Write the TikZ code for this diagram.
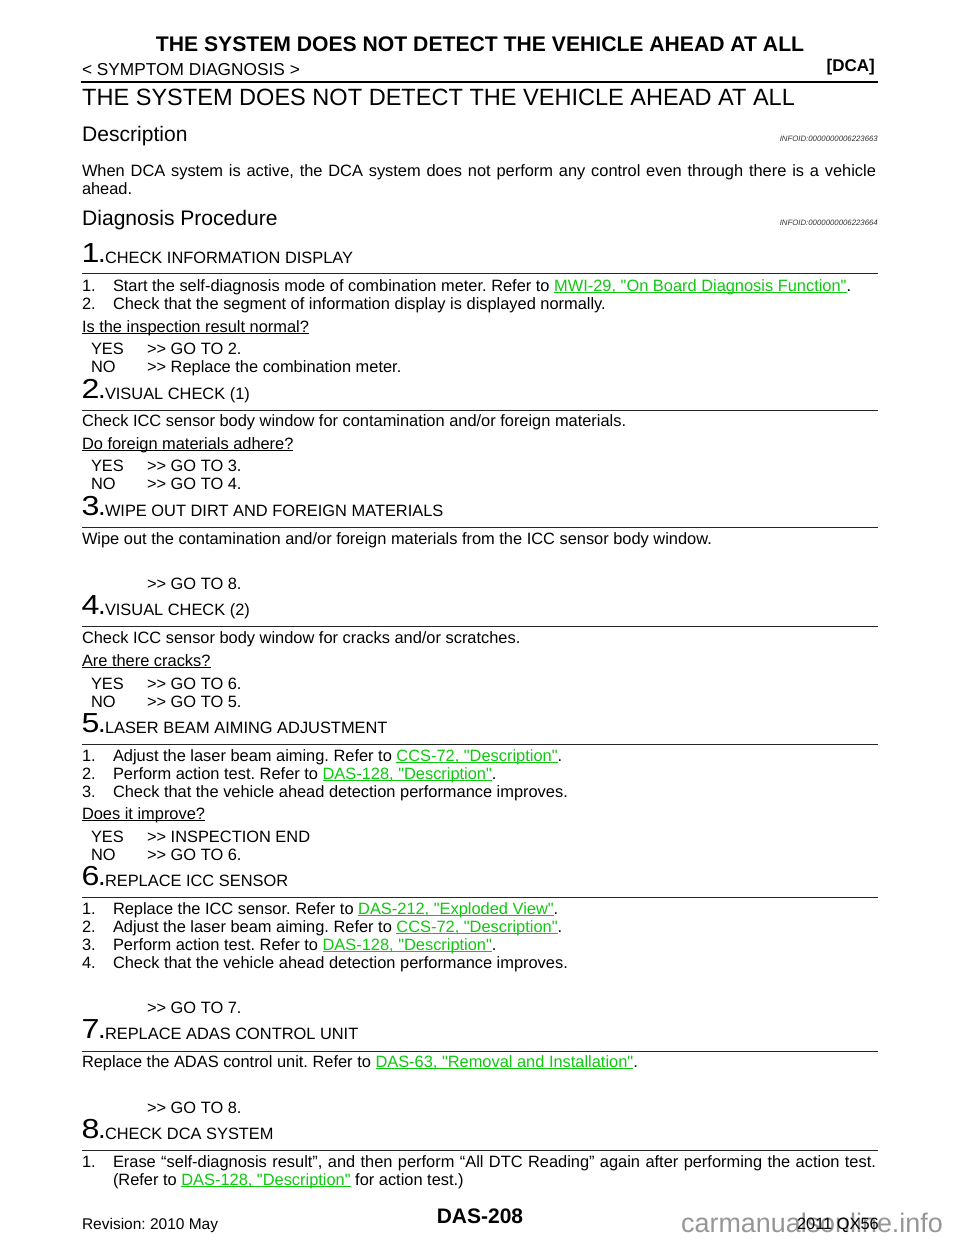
\documentclass[tikz,border=0pt]{standalone}
\usepackage{fontspec}
\setmainfont{Liberation Sans}[Ligatures=TeXOff]
\definecolor{linkgreen}{RGB}{16,200,16}
\definecolor{wmgrey}{RGB}{150,150,150}
\newsavebox{\ulbox}
\newcommand{\ul}[1]{\sbox{\ulbox}{#1}\rlap{\rule[-1.7pt]{\wd\ulbox}{0.8pt}}\usebox{\ulbox}}
\newcommand{\lnk}[1]{\textcolor{linkgreen}{\ul{#1}}}
\newcommand{\body}{\frenchspacing\fontsize{16.4}{18}\selectfont}
\tikzset{
  x=1pt,y=-1pt,
  txt/.style={anchor=base west,inner sep=0pt,outer sep=0pt,font=\body},
  num/.style={anchor=base west,inner sep=0pt,font=\fontsize{27.5}{28}\selectfont},
  rulel/.style={line width=1pt,black!85},
  info/.style={anchor=base east,inner sep=0pt,font=\fontsize{7.8}{8}\selectfont\itshape,black!80},
  sect/.style={anchor=base west,inner sep=0pt,font=\fontsize{21.05}{24}\selectfont},
}
\newcommand{\stepline}[4]{%
  \node[num] (n#1) at (81.5,#2-0.8) {\scalebox{1.17}[1]{#1}\kern-1.5pt.};
  \node[txt] (h#1) at (105,#2) {#3};
  \coordinate (a#1) at (82,#4); \coordinate (b#1) at (878,#4);
  \draw[rulel] (a#1) -- (b#1);
}
\begin{document}
\begin{tikzpicture}
\useasboundingbox (0,0) rectangle (960,1242);
\fill[white] (0,0) rectangle (960,1242);
\node[anchor=base,inner sep=0pt,font=\fontsize{21.15}{24}\selectfont\bfseries] (title) at (480,51) {THE SYSTEM DOES NOT DETECT THE VEHICLE AHEAD AT ALL};
\node[txt,font=\frenchspacing\fontsize{17.3}{18}\selectfont] (sym) at (82,75.5) {< SYMPTOM DIAGNOSIS >};
\node[anchor=base east,inner sep=0pt,font=\fontsize{17}{18}\selectfont\bfseries] (dca) at (875,71.5) {[DCA]};
\coordinate (ta) at (81,81.7); \coordinate (tb) at (878,81.7);
\draw[line width=2.2pt] (ta) -- (tb);
\node[anchor=base west,inner sep=0pt,font=\fontsize{23.55}{28}\selectfont] (main) at (82,105) {THE SYSTEM DOES NOT DETECT THE VEHICLE AHEAD AT ALL};
\node[sect] (desc) at (82,141) {Description};
\node[info] (i1) at (878,141) {INFOID:0000000006223663};
\node[txt] (d1) at (82,176) {\makebox[794pt][s]{When DCA system is active, the DCA system does not perform any control even through there is a vehicle}};
\node[txt] (d2) at (82,194) {ahead.};
\node[sect] (diag) at (82,225) {Diagnosis Procedure};
\node[info] (i2) at (878,225) {INFOID:0000000006223664};

\stepline{1}{263}{CHECK INFORMATION DISPLAY}{273.5}
\node[txt] at (82,291) {1.}; \node[txt] at (113,291) {Start the self-diagnosis mode of combination meter. Refer to \lnk{MWI-29, "On Board Diagnosis Function"}.};
\node[txt] at (82,309) {2.}; \node[txt] at (113,309) {Check that the segment of information display is displayed normally.};
\node[txt] at (82,332) {\ul{Is the inspection result normal?}};
\node[txt] at (91,354) {YES}; \node[txt] at (147,354) {>> GO TO 2.};
\node[txt] at (91,372) {NO}; \node[txt] at (147,372) {>> Replace the combination meter.};

\stepline{2}{399}{VISUAL CHECK (1)}{410}
\node[txt] at (82,426) {Check ICC sensor body window for contamination and/or foreign materials.};
\node[txt] at (82,449) {\ul{Do foreign materials adhere?}};
\node[txt] at (91,471.5) {YES}; \node[txt] at (147,471.5) {>> GO TO 3.};
\node[txt] at (91,489.5) {NO}; \node[txt] at (147,489.5) {>> GO TO 4.};

\stepline{3}{516}{WIPE OUT DIRT AND FOREIGN MATERIALS}{527}
\node[txt] at (82,544) {Wipe out the contamination and/or foreign materials from the ICC sensor body window.};
\node[txt] at (147,589.5) {>> GO TO 8.};

\stepline{4}{615}{VISUAL CHECK (2)}{626}
\node[txt] at (82,643) {Check ICC sensor body window for cracks and/or scratches.};
\node[txt] at (82,666) {\ul{Are there cracks?}};
\node[txt] at (91,689) {YES}; \node[txt] at (147,689) {>> GO TO 6.};
\node[txt] at (91,707) {NO}; \node[txt] at (147,707) {>> GO TO 5.};

\stepline{5}{733}{LASER BEAM AIMING ADJUSTMENT}{744}
\node[txt] at (82,761) {1.}; \node[txt] at (113,761) {Adjust the laser beam aiming. Refer to \lnk{CCS-72, "Description"}.};
\node[txt] at (82,779) {2.}; \node[txt] at (113,779) {Perform action test. Refer to \lnk{DAS-128, "Description"}.};
\node[txt] at (82,797) {3.}; \node[txt] at (113,797) {Check that the vehicle ahead detection performance improves.};
\node[txt] at (82,819.5) {\ul{Does it improve?}};
\node[txt] at (91,842) {YES}; \node[txt] at (147,842) {>> INSPECTION END};
\node[txt] at (91,860) {NO}; \node[txt] at (147,860) {>> GO TO 6.};

\stepline{6}{886}{REPLACE ICC SENSOR}{897.5}
\node[txt] at (82,914) {1.}; \node[txt] at (113,914) {Replace the ICC sensor. Refer to \lnk{DAS-212, "Exploded View"}.};
\node[txt] at (82,932) {2.}; \node[txt] at (113,932) {Adjust the laser beam aiming. Refer to \lnk{CCS-72, "Description"}.};
\node[txt] at (82,950) {3.}; \node[txt] at (113,950) {Perform action test. Refer to \lnk{DAS-128, "Description"}.};
\node[txt] at (82,968) {4.}; \node[txt] at (113,968) {Check that the vehicle ahead detection performance improves.};
\node[txt] at (147,1013.5) {>> GO TO 7.};

\stepline{7}{1039}{REPLACE ADAS CONTROL UNIT}{1051}
\node[txt] at (82,1067.5) {Replace the ADAS control unit. Refer to \lnk{DAS-63, "Removal and Installation"}.};
\node[txt] at (147,1113) {>> GO TO 8.};

\stepline{8}{1139}{CHECK DCA SYSTEM}{1150}
\node[txt] at (82,1167) {1.}; \node[txt] at (113,1167) {\makebox[763pt][s]{Erase “self-diagnosis result”, and then perform “All DTC Reading” again after performing the action test.}};
\node[txt] at (113,1185) {(Refer to \lnk{DAS-128, "Description"} for action test.)};

\node[anchor=base,inner sep=0pt,font=\fontsize{21}{24}\selectfont\bfseries] (pg) at (480,1223) {DAS-208};
\node[txt,font=\frenchspacing\fontsize{15.5}{18}\selectfont] (rev) at (82,1229) {Revision: 2010 May};
\node[anchor=base west,inner sep=0pt,font=\fontsize{26.9}{27}\selectfont,text=wmgrey] (wm) at (681,1232) {carmanualsonline.info};
\node[anchor=base east,inner sep=0pt,font=\body] (yr) at (879,1229) {2011 QX56};
\end{tikzpicture}
\end{document}
